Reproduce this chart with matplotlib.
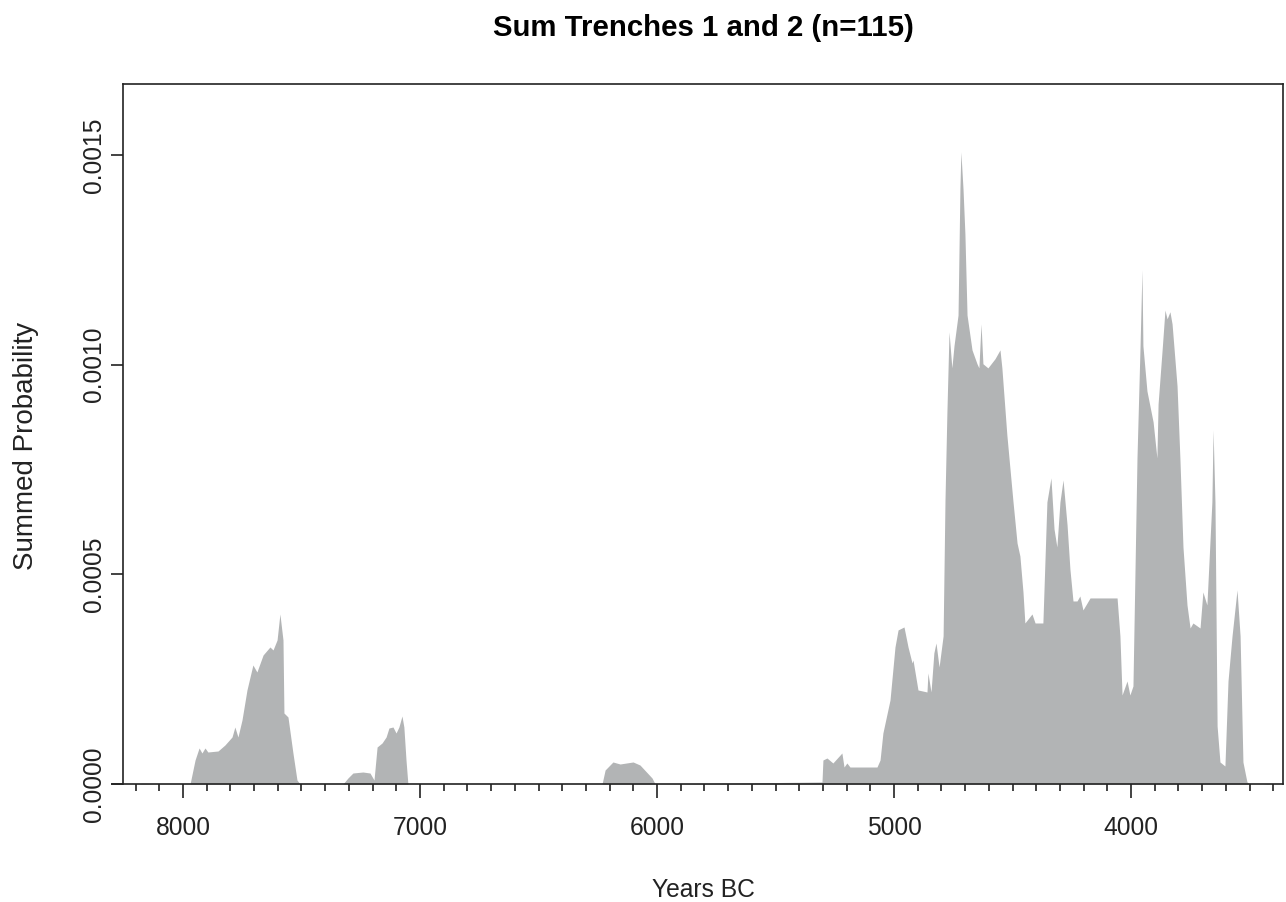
import numpy as np
import matplotlib
matplotlib.use("Agg")
import matplotlib.pyplot as plt

plt.rcParams['font.family'] = ['Liberation Sans', 'DejaVu Sans']

# summed probability (years BC, probability)
years_a = [8250, 8190, 8175, 8150, 8120, 8000, 7975]
spd_a = [0, 0, 0.15e-5, 0.13e-5, 0.02e-5, 0.02e-5, 0]

years_b = [7970, 7949, 7932, 7920, 7907, 7895, 7852, 7823, 7793, 7781, 7768,
           7751, 7730, 7705, 7688, 7662, 7633, 7620, 7603, 7591, 7578, 7574,
           7557, 7536, 7519, 7506]
spd_b = [0.05e-5, 5.72e-5, 8.59e-5, 7.39e-5, 8.59e-5, 7.63e-5, 7.87e-5,
         9.30e-5, 11.21e-5, 13.59e-5, 11.21e-5, 15.26e-5, 22.42e-5, 28.38e-5,
         26.71e-5, 30.76e-5, 32.67e-5, 31.96e-5, 34.34e-5, 40.54e-5, 34.34e-5,
         16.93e-5, 15.98e-5, 7.39e-5, 0.95e-5, 0]

years_c = [7325, 7304, 7283, 7241, 7211, 7194, 7181, 7160, 7143, 7131, 7114,
           7101, 7089, 7076, 7068, 7059, 7051]
spd_c = [0, 1.43e-5, 2.62e-5, 2.86e-5, 2.62e-5, 0.95e-5, 8.82e-5, 9.78e-5,
         11.21e-5, 13.35e-5, 13.59e-5, 12.16e-5, 13.59e-5, 16.22e-5, 13.59e-5,
         5.72e-5, 0]

years_d = [6232, 6219, 6186, 6156, 6101, 6072, 6021, 6008]
spd_d = [0, 3.34e-5, 5.25e-5, 4.77e-5, 5.25e-5, 4.53e-5, 1.43e-5, 0]

years_e = [5304, 5300, 5283, 5258, 5220, 5211, 5199, 5186, 5072, 5059, 5047,
           5017, 4996, 4983, 4958, 4941, 4924, 4920, 4899, 4861, 4857, 4844,
           4832, 4823, 4810, 4793, 4785, 4777, 4768, 4756, 4747, 4730, 4722,
           4718, 4709, 4701, 4692, 4671, 4650, 4642, 4633, 4625, 4604, 4574,
           4553, 4545, 4524, 4498, 4481, 4469, 4456, 4448, 4418, 4405, 4372,
           4355, 4338, 4325, 4313, 4300, 4287, 4270, 4258, 4245, 4228, 4216,
           4203, 4173, 4102, 4059, 4047, 4038, 4017, 4005, 3992, 3975, 3962,
           3954, 3950, 3933, 3907, 3891, 3886, 3869, 3857, 3848, 3836, 3827,
           3806, 3794, 3781, 3764, 3751, 3739, 3709, 3697, 3680, 3659, 3654,
           3646, 3637, 3625, 3604, 3591, 3574, 3553, 3540, 3528, 3511, 3498]
spd_e = [0.48e-5, 5.72e-5, 6.20e-5, 5.01e-5, 7.39e-5, 4.05e-5, 5.01e-5,
         4.05e-5, 4.05e-5, 5.72e-5, 12.16e-5, 20.03e-5, 32.67e-5, 36.73e-5,
         37.44e-5, 32.67e-5, 28.86e-5, 29.57e-5, 22.42e-5, 21.94e-5, 26.47e-5,
         21.94e-5, 31.24e-5, 33.63e-5, 27.90e-5, 35.30e-5, 67.73e-5, 88.48e-5,
         107.8e-5, 99.21e-5, 104.5e-5, 111.8e-5, 141.9e-5, 150.7e-5, 141.9e-5,
         131.2e-5, 111.8e-5, 103.5e-5, 100.2e-5, 99.21e-5, 109.7e-5, 100.2e-5,
         99.21e-5, 101.4e-5, 103.5e-5, 99.21e-5, 83.23e-5, 67.25e-5, 57.47e-5,
         54.37e-5, 45.79e-5, 38.39e-5, 40.54e-5, 38.39e-5, 38.39e-5, 67.25e-5,
         72.98e-5, 60.81e-5, 56.52e-5, 67.25e-5, 72.50e-5, 61.77e-5, 51.27e-5,
         43.64e-5, 43.64e-5, 44.83e-5, 41.50e-5, 44.36e-5, 44.36e-5, 44.36e-5,
         35.30e-5, 21.22e-5, 24.56e-5, 21.22e-5, 23.37e-5, 77.74e-5, 104.5e-5,
         122.6e-5, 104.5e-5, 93.72e-5, 86.33e-5, 77.74e-5, 90.62e-5, 103.5e-5,
         113.0e-5, 110.9e-5, 112.6e-5, 109.7e-5, 94.91e-5, 77.74e-5, 56.52e-5,
         42.69e-5, 37.20e-5, 38.39e-5, 37.20e-5, 45.79e-5, 42.69e-5, 67.25e-5,
         84.42e-5, 67.25e-5, 13.83e-5, 5.25e-5, 4.29e-5, 24.56e-5, 35.30e-5,
         46.27e-5, 35.30e-5, 5.25e-5, 0.48e-5, 0]

years_f = [3440, 3425, 3410, 3359]
spd_f = [0, 0.1e-5, 0, 0]

major_ticks = [8000, 7000, 6000, 5000, 4000]
y_ticks = [0.0, 0.0005, 0.0010, 0.0015]
y_labels = ["0.0000", "0.0005", "0.0010", "0.0015"]

years = np.array(years_a + years_b + years_c + years_d + years_e + years_f)
spd = np.array(spd_a + spd_b + spd_c + spd_d + spd_e + spd_f)

fig = plt.figure(figsize=(12.86, 9.02), dpi=100)
ax = fig.add_axes([123 / 1286, 118 / 902, 1160 / 1286, 700 / 902])

ax.fill_between(years, spd, 0, color='#b2b4b5', lw=0)

ax.set_xlim(8253, 3359)
ax.set_ylim(0, 0.001669)

# R-like axes: box on three sides, separate x axis line
ax.spines['bottom'].set_visible(False)
for s in ['left', 'top', 'right']:
    ax.spines[s].set_linewidth(1.2)
    ax.spines[s].set_color('#222222')
ax.plot([8300, 3359], [0, 0], color='#222222', lw=1.2, clip_on=False)

ax.set_xticks(major_ticks)
ax.set_xticklabels([str(t) for t in major_ticks])
minor = [t for t in range(8200, 3399, -100) if t not in major_ticks]
ax.set_xticks(minor, minor=True)
ax.tick_params(axis='x', which='major', length=10, width=1.2, pad=13,
               labelsize=17.7, colors='#222222')
ax.tick_params(axis='x', which='minor', length=5, width=1.2, colors='#222222')

ax.set_yticks(y_ticks)
ax.set_yticklabels(y_labels)
ax.tick_params(axis='y', length=9, width=1.2, pad=3, labelsize=17.7,
               labelrotation=90, colors='#222222')
for lab in ax.get_yticklabels():
    lab.set_va('center')

fig.text(703 / 1286, 1 - 36 / 902, 'Sum Trenches 1 and 2 (n=115)',
         ha='center', va='baseline', fontsize=21.2, fontweight='bold')
fig.text(703 / 1286, 1 - 897 / 902, 'Years BC', ha='center', va='baseline',
         fontsize=17.7, color='#222222')
fig.text(26 / 1286, 1 - 446 / 902, 'Summed Probability', ha='center',
         va='center', rotation=90, fontsize=20, color='#222222')

fig.savefig('out.png', dpi=100)
